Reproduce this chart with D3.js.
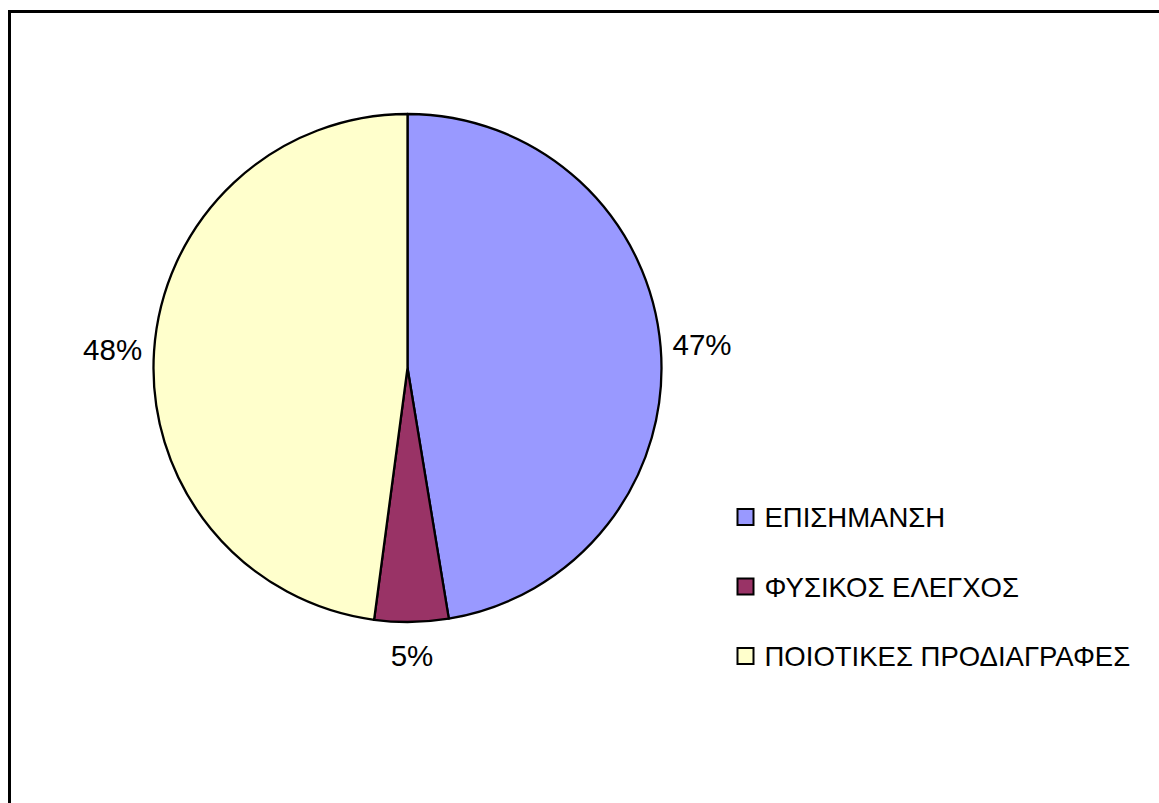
<!DOCTYPE html>
<html>
<head>
<meta charset="utf-8">
<script src="https://cdn.jsdelivr.net/npm/d3@7"></script>
<style>
  body { margin: 0; background: #fff; }
  svg { display: block; font-family: "Liberation Sans", Arial, sans-serif; }
</style>
</head>
<body>
<div id="chart"></div>
<script>
var categories = ["ΕΠΙΣΗΜΑΝΣΗ", "ΦΥΣΙΚΟΣ ΕΛΕΓΧΟΣ", "ΠΟΙΟΤΙΚΕΣ ΠΡΟΔΙΑΓΡΑΦΕΣ"];
var values = [47.4, 4.7, 47.9];
var colors = ["#9999FF", "#993366", "#FFFFCC"];

var svgWidth = 1159;
var svgHeight = 803;

var cx = 407.5, cy = 368, radius = 254;

var svg = d3.select("#chart")
  .append("svg")
  .attr("width", svgWidth)
  .attr("height", svgHeight);

// outer frame (only top/left edges show inside the window)
svg.append("rect")
  .attr("x", 9.5)
  .attr("y", 11.5)
  .attr("width", svgWidth + 20)
  .attr("height", svgHeight + 20)
  .attr("fill", "none")
  .attr("stroke", "#000")
  .attr("stroke-width", 3);

var total = d3.sum(values);
var fmt = d3.format(".0%");

var pie = d3.pie().sort(null).value(d => d);
var arcs = pie(values);

var arc = d3.arc().innerRadius(0).outerRadius(radius);

var pieGroup = svg.append("g")
  .attr("transform", `translate(${cx}, ${cy})`);

pieGroup.selectAll("path")
  .data(arcs)
  .enter()
  .append("path")
  .attr("d", arc)
  .attr("fill", (d, i) => colors[i])
  .attr("stroke", "#000")
  .attr("stroke-width", 2.3)
  .attr("stroke-linejoin", "round");

// percentage labels just outside each slice
var labelR = radius + 10;
pieGroup.selectAll("text.pct")
  .data(arcs)
  .enter()
  .append("text")
  .attr("class", "pct")
  .style("font-size", "29.5px")
  .attr("text-anchor", "middle")
  .attr("dominant-baseline", "central")
  .attr("fill", "#000")
  .text(d => fmt(d.value / total))
  .each(function(d) {
    var a = (d.startAngle + d.endAngle) / 2;
    var w = this.getComputedTextLength();
    var h = 48;
    var px = labelR * Math.sin(a);
    var py = -labelR * Math.cos(a);
    d3.select(this)
      .attr("x", px + Math.sin(a) * (w / 2 + 2))
      .attr("y", py - Math.cos(a) * h / 2);
  });

// legend
var legendX = 737.5, legendY = 517, legendStep = 69.5;
var legend = svg.append("g");

var rows = legend.selectAll("g")
  .data(categories)
  .enter()
  .append("g")
  .attr("transform", (d, i) => `translate(${legendX}, ${legendY + i * legendStep})`);

rows.append("rect")
  .attr("x", 0)
  .attr("y", -8)
  .attr("width", 16)
  .attr("height", 16)
  .attr("fill", (d, i) => colors[i])
  .attr("stroke", "#000")
  .attr("stroke-width", 2);

rows.append("text")
  .attr("x", 27)
  .attr("y", 10)
  .style("font-size", "27.5px")
  .attr("fill", "#000")
  .text(d => d);
</script>
</body>
</html>
